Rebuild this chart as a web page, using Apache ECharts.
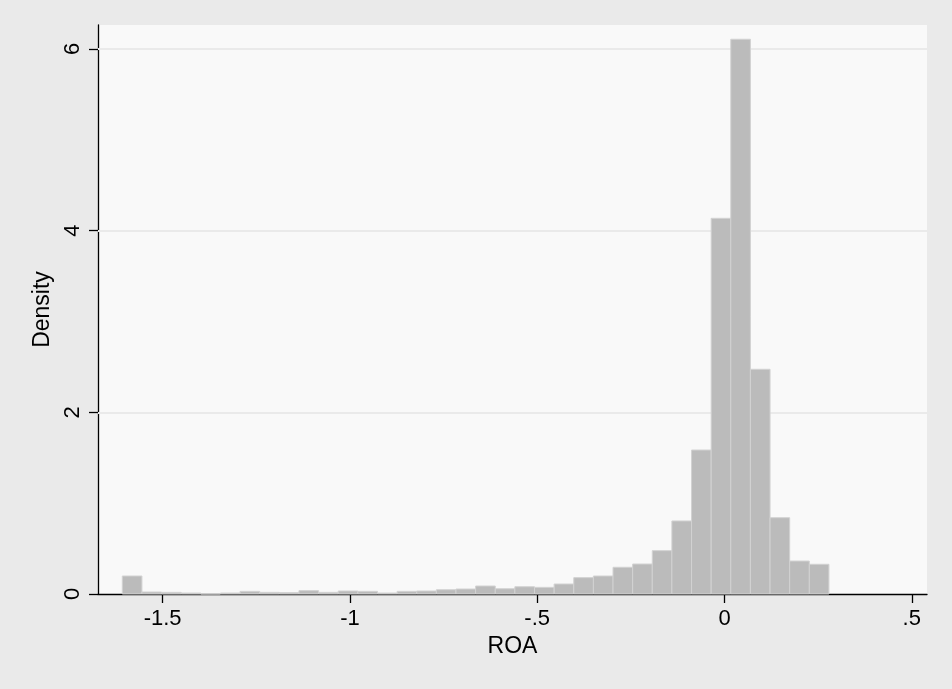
<!DOCTYPE html>
<html>
<head>
<meta charset="utf-8">
<script src="https://cdn.jsdelivr.net/npm/echarts@6/dist/echarts.min.js"></script>
<style>
html,body{margin:0;padding:0;background:#EAEAEA;}
#chart{width:952px;height:689px;}
</style>
</head>
<body>
<div id="chart"></div>
<script>
// Histogram of ROA (density scale)
var binStart = -1.6076;
var binWidth = 0.0524;
var densities = [
  0.198, 0.022, 0.018, 0.011, 0.000, 0.011, 0.029, 0.018, 0.015, 0.037,
  0.018, 0.033, 0.029, 0.011, 0.029, 0.033, 0.047, 0.055, 0.088, 0.058,
  0.080, 0.073, 0.110, 0.180, 0.198, 0.294, 0.330, 0.477, 0.804, 1.585,
  4.136, 6.107, 2.474, 0.840, 0.363, 0.327
];
var xTicks = [-1.5, -1, -0.5, 0, 0.5];
var yTicks = [0, 2, 4, 6];
var xTitle = 'ROA';
var yTitle = 'Density';

var histData = densities.map(function (d, i) {
  return [binStart + i * binWidth, binStart + (i + 1) * binWidth, d];
});

function stataLabel(v) {
  var s = String(Math.round(v * 1000) / 1000);
  return s.replace(/^(-?)0\./, '$1.');
}

var font = '"Liberation Sans", Arial, Helvetica, sans-serif';
var chart = echarts.init(document.getElementById('chart'), null, {renderer: 'canvas'});
chart.setOption({
  backgroundColor: '#EAEAEA',
  animation: false,
  grid: {
    left: 98, right: 25, top: 25, bottom: 95,
    show: true, backgroundColor: '#F9F9F9', borderWidth: 0
  },
  xAxis: {
    type: 'value',
    min: -1.6725, max: 0.5406,
    name: xTitle, nameLocation: 'middle', nameGap: 38,
    nameTextStyle: {color: '#000', fontSize: 23, fontFamily: font},
    axisLine: {show: true, onZero: false, lineStyle: {color: '#000', width: 1.3}},
    axisTick: {show: true, length: 9, lineStyle: {color: '#000', width: 1.3}, customValues: xTicks},
    axisLabel: {color: '#000', fontSize: 22, fontFamily: font, margin: 14, customValues: xTicks,
      formatter: stataLabel},
    splitLine: {show: false}
  },
  yAxis: {
    type: 'value',
    min: 0, max: 6.264,
    name: yTitle, nameLocation: 'middle', nameGap: 44,
    nameTextStyle: {color: '#000', fontSize: 23, fontFamily: font},
    axisLine: {show: true, onZero: false, lineStyle: {color: '#000', width: 1.3}},
    axisTick: {show: true, length: 9, lineStyle: {color: '#000', width: 1.3}, customValues: yTicks},
    axisLabel: {color: '#000', fontSize: 22, fontFamily: font, margin: 14, rotate: 90,
      customValues: yTicks, formatter: stataLabel},
    splitLine: {show: false}
  },
  series: [{
    type: 'custom',
    data: histData,
    renderItem: function (params, api) {
      var p0 = api.coord([api.value(0), api.value(2)]);
      var p1 = api.coord([api.value(1), 0]);
      return {
        type: 'rect',
        shape: {x: p0[0], y: p0[1], width: p1[0] - p0[0], height: p1[1] - p0[1]},
        style: {fill: '#BBBBBB', stroke: '#D2D2D2', lineWidth: 1}
      };
    },
    encode: {x: [0, 1], y: 2},
    markLine: {
      silent: true, symbol: 'none', z: 1,
      label: {show: false},
      lineStyle: {color: '#EAEAEA', type: 'solid', width: 2},
      data: yTicks.filter(function (v) { return v > 0; }).map(function (v) { return {yAxis: v}; })
    },
    z: 2
  }]
});
</script>
</body>
</html>
